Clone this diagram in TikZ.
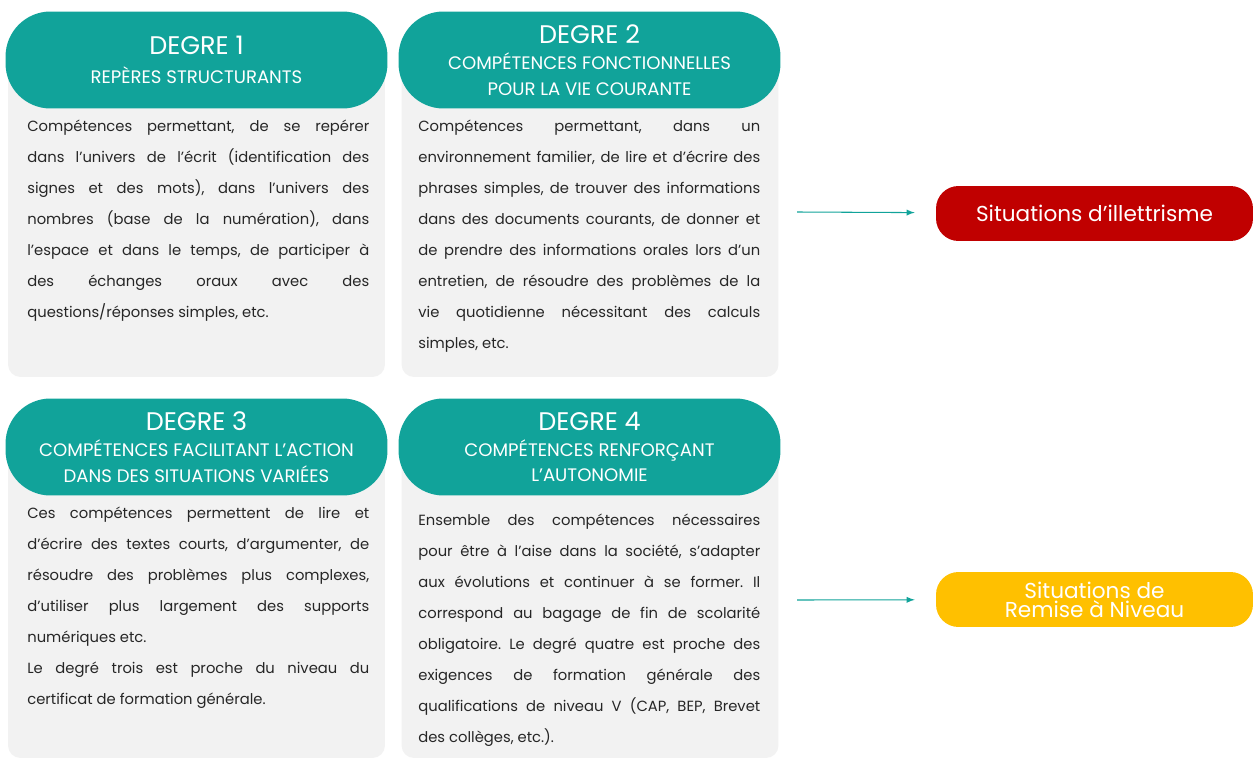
\documentclass[tikz,border=0pt]{standalone}
\usepackage{fontspec}
\setmainfont{Poppins}
\definecolor{sarcelle}{RGB}{17,163,154}
\definecolor{fond}{RGB}{242,242,242}
\definecolor{rouge}{RGB}{192,0,0}
\definecolor{jaune}{RGB}{255,192,0}
\definecolor{encre}{RGB}{38,38,38}
\tolerance=10000
\frenchspacing
\begin{document}
\begin{tikzpicture}[x=0.02cm,y=-0.02cm]
  \tikzstyle{cadre}=[fill=fond,rounded corners=0.25cm,minimum width=7.54cm,minimum height=6.34cm]
  \tikzstyle{entete}=[fill=sarcelle,text=white,rounded corners=0.9cm,minimum width=7.64cm,minimum height=1.94cm,align=center,font=\fontsize{10.3}{14.7}\selectfont]
  \tikzstyle{corps}=[anchor=north west,inner sep=0pt,text width=6.84cm,align=justify,text=encre,font=\fontsize{8.4}{17.6}\selectfont]
  \tikzstyle{issue}=[rounded corners=0.45cm,minimum width=6.34cm,minimum height=1.1cm,text=white,align=center,font=\fontsize{12.3}{10.8}\selectfont]
  \tikzstyle{fleche}=[draw=sarcelle,line width=0.6pt,-latex,shorten >=0.42cm]
  \newcommand{\degre}[1]{{\fontsize{14.5}{14.7}\selectfont DEGRE #1}}
  \useasboundingbox (0,0) rectangle (1255,760);
  % boites grises
  \node[cadre] (c1) at (196.5,218.5) {};
  \node[cadre] (c2) at (590,218.5) {};
  \node[cadre,minimum height=6.22cm] (c3) at (196.5,602.5) {};
  \node[cadre,minimum height=6.22cm] (c4) at (590,602.5) {};
  % entetes
  \node[entete] (e1) at (196.5,60) {\degre{1}\\[2pt] REPÈRES STRUCTURANTS};
  \node[entete] (e2) at (589.5,60) {\degre{2}\\ COMPÉTENCES FONCTIONNELLES\\ POUR LA VIE COURANTE};
  \node[entete] (e3) at (196.5,447) {\degre{3}\\ COMPÉTENCES FACILITANT L’ACTION\\ DANS DES SITUATIONS VARIÉES};
  \node[entete] (e4) at (589.5,447) {\degre{4}\\ COMPÉTENCES RENFORÇANT\\ L’AUTONOMIE};
  % textes
  \node[corps] (t1) at (27,120) {Compétences permettant, de se repérer\linebreak dans l’univers de l’écrit (identification des\linebreak signes et des mots), dans l’univers des\linebreak nombres (base de la numération), dans\linebreak l’espace et dans le temps, de participer à\linebreak des échanges oraux avec des\linebreak questions/réponses simples, etc.};
  \node[corps] (t2) at (418,120) {Compétences permettant, dans un\linebreak environnement familier, de lire et d’écrire des\linebreak phrases simples, de trouver des informations\linebreak dans des documents courants, de donner et\linebreak de prendre des informations orales lors d’un\linebreak entretien, de résoudre des problèmes de la\linebreak vie quotidienne nécessitant des calculs\linebreak simples, etc.};
  \node[corps] (t3) at (27,507) {Ces compétences permettent de lire et\linebreak d’écrire des textes courts, d’argumenter, de\linebreak résoudre des problèmes plus complexes,\linebreak d’utiliser plus largement des supports\linebreak numériques etc.\\ Le degré trois est proche du niveau du\linebreak certificat de formation générale.};
  \node[corps] (t4) at (418,514) {Ensemble des compétences nécessaires\linebreak pour être à l’aise dans la société, s’adapter\linebreak aux évolutions et continuer à se former. Il\linebreak correspond au bagage de fin de scolarité\linebreak obligatoire. Le degré quatre est proche des\linebreak exigences de formation générale des\linebreak qualifications de niveau V (CAP, BEP, Brevet\linebreak des collèges, etc.).};
  % situations
  \node[issue,fill=rouge] (s1) at (1094.5,213.5) {Situations d’illettrisme};
  \node[issue,fill=jaune] (s2) at (1094.5,599.5) {Situations de\\ Remise à Niveau};
  \coordinate (d1) at (797,212);
  \coordinate (d2) at (797,600);
  \draw[fleche] (d1) -- (s1);
  \draw[fleche] (d2) -- (s2);
\end{tikzpicture}
\end{document}
